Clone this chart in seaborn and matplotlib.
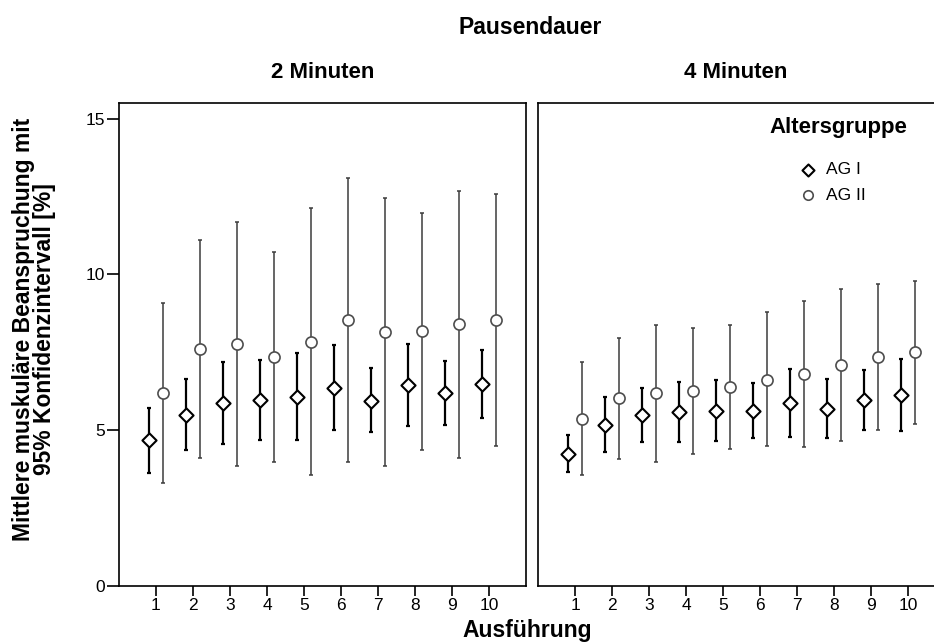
import numpy as np
import pandas as pd
import matplotlib
matplotlib.use("Agg")
import matplotlib.pyplot as plt
import seaborn as sns

# Werte (Mittelwert + 95%-KI)
ausfuehrung = [1, 2, 3, 4, 5, 6, 7, 8, 9, 10]

# 2 Minuten Pause
ag1_2min_mean = [4.68, 5.50, 5.88, 5.97, 6.08, 6.37, 5.95, 6.45, 6.19, 6.47]
ag1_2min_lo = [3.63, 4.38, 4.57, 4.69, 4.69, 5.01, 4.94, 5.13, 5.17, 5.38]
ag1_2min_hi = [5.71, 6.63, 7.19, 7.25, 7.48, 7.75, 7.00, 7.78, 7.22, 7.56]
ag2_2min_mean = [6.20, 7.61, 7.77, 7.35, 7.84, 8.53, 8.15, 8.17, 8.40, 8.54]
ag2_2min_lo = [3.30, 4.11, 3.85, 3.98, 3.56, 3.98, 3.85, 4.38, 4.11, 4.49]
ag2_2min_hi = [9.08, 11.11, 11.68, 10.71, 12.14, 13.08, 12.44, 11.96, 12.69, 12.57]

# 4 Minuten Pause
ag1_4min_mean = [4.25, 5.18, 5.48, 5.59, 5.63, 5.61, 5.88, 5.69, 5.96, 6.14]
ag1_4min_lo = [3.65, 4.31, 4.63, 4.63, 4.65, 4.75, 4.78, 4.75, 5.02, 4.98]
ag1_4min_hi = [4.84, 6.08, 6.36, 6.55, 6.62, 6.50, 6.97, 6.64, 6.93, 7.28]
ag2_4min_mean = [5.37, 6.02, 6.19, 6.26, 6.39, 6.62, 6.79, 7.09, 7.35, 7.50]
ag2_4min_lo = [3.56, 4.08, 3.98, 4.25, 4.41, 4.48, 4.46, 4.65, 5.02, 5.21]
ag2_4min_hi = [7.19, 7.97, 8.39, 8.28, 8.39, 8.78, 9.13, 9.54, 9.70, 9.79]

y_ticks = [0, 5, 10, 15]

# langes DataFrame bauen
rows = []
series = [
    ("2 Minuten", "AG I", ag1_2min_mean, ag1_2min_lo, ag1_2min_hi),
    ("2 Minuten", "AG II", ag2_2min_mean, ag2_2min_lo, ag2_2min_hi),
    ("4 Minuten", "AG I", ag1_4min_mean, ag1_4min_lo, ag1_4min_hi),
    ("4 Minuten", "AG II", ag2_4min_mean, ag2_4min_lo, ag2_4min_hi),
]
for pause, ag, m, lo, hi in series:
    for i, a in enumerate(ausfuehrung):
        rows.append({"Pause": pause, "Altersgruppe": ag, "Ausfuehrung": a,
                     "mean": m[i], "lo": lo[i], "hi": hi[i]})
df = pd.DataFrame(rows)

sns.set_style("ticks")
plt.rcParams["font.family"] = ["Liberation Sans", "DejaVu Sans"]
plt.rcParams["text.color"] = "black"
plt.rcParams["xtick.color"] = "black"
plt.rcParams["ytick.color"] = "black"
plt.rcParams["axes.labelcolor"] = "black"

fig = plt.figure(figsize=(9.34, 6.44), dpi=100)
ax_l = fig.add_axes([119 / 934, 1 - 586 / 644, 407 / 934, 483 / 644])
ax_r = fig.add_axes([538 / 934, 1 - 586 / 644, 407 / 934, 483 / 644])

style = {
    "AG I": dict(offset=-0.2, marker="D", s=52, ec="black", lw=1.5,
                 bar="black", bar_lw=1.6, cap=1.6),
    "AG II": dict(offset=0.2, marker="o", s=64, ec="#4d4d4d", lw=1.2,
                  bar="#3c3c3c", bar_lw=1.1, cap=1.3),
}

for ax, pause in [(ax_l, "2 Minuten"), (ax_r, "4 Minuten")]:
    sub = df[df["Pause"] == pause]
    for ag in ["AG I", "AG II"]:
        st = style[ag]
        d = sub[sub["Altersgruppe"] == ag]
        xpos = d["Ausfuehrung"] + st["offset"]
        ax.errorbar(xpos, d["mean"],
                    yerr=[d["mean"] - d["lo"], d["hi"] - d["mean"]],
                    fmt="none", ecolor=st["bar"], elinewidth=st["bar_lw"],
                    capsize=st["cap"], capthick=st["bar_lw"], zorder=2)
        sns.scatterplot(x=xpos, y=d["mean"], ax=ax, marker=st["marker"],
                        s=st["s"], color="white", edgecolor=st["ec"],
                        linewidth=st["lw"], zorder=3, label=ag)
    ax.set_xlim(0, 11)
    ax.set_ylim(0, 15.5)
    ax.set_xticks(ausfuehrung)
    ax.set_xticklabels([str(a) for a in ausfuehrung], fontsize=12.5)
    ax.set_xlabel("")
    ax.set_ylabel("")
    ax.tick_params(axis="x", direction="out", length=7, width=1.2, pad=2)
    for sp in ax.spines.values():
        sp.set_linewidth(1.2)
        sp.set_color("black")
        sp.set_visible(True)
    if ax.get_legend() is not None:
        ax.get_legend().remove()

ax_l.set_yticks(y_ticks)
ax_l.set_yticklabels([str(v) for v in y_ticks], fontsize=12.5)
ax_l.tick_params(axis="y", direction="out", length=9, width=1.2, pad=1)
ax_r.set_yticks([])

ax_l.set_title("2 Minuten", fontsize=16, fontweight="bold", pad=18)
ax_r.set_title("4 Minuten", fontsize=16, fontweight="bold", pad=18,
               x=(736 - 538) / 407)

fig.text(530 / 934, 1 - 28 / 644, "Pausendauer", fontsize=16.5,
         fontweight="bold", ha="center", va="center")
fig.text(527 / 934, 1 - 630 / 644, "Ausführung", fontsize=16.5,
         fontweight="bold", ha="center", va="center")
fig.text(34 / 934, 1 - 329 / 644,
         "Mittlere muskuläre Beanspruchung mit\n95% Konfidenzintervall [%]",
         fontsize=16.5, fontweight="bold", rotation=90, ha="center",
         va="center", multialignment="center", linespacing=0.9)

# Legende: Titel separat, Einträge mit größerem Abstand
fig.text(838 / 934, 1 - 127 / 644, "Altersgruppe", fontsize=16,
         fontweight="bold", ha="center", va="center")
handles, labels = ax_r.get_legend_handles_labels()
leg = ax_r.legend(handles, labels, frameon=False,
                  loc="upper left", bbox_to_anchor=(799 / 934, 1 - 162 / 644),
                  bbox_transform=fig.transFigure, fontsize=12.5,
                  markerscale=0.85, handlelength=1.0,
                  handletextpad=0.55, labelspacing=0.6, borderpad=0,
                  borderaxespad=0)

fig.savefig("out.png", dpi=100)
